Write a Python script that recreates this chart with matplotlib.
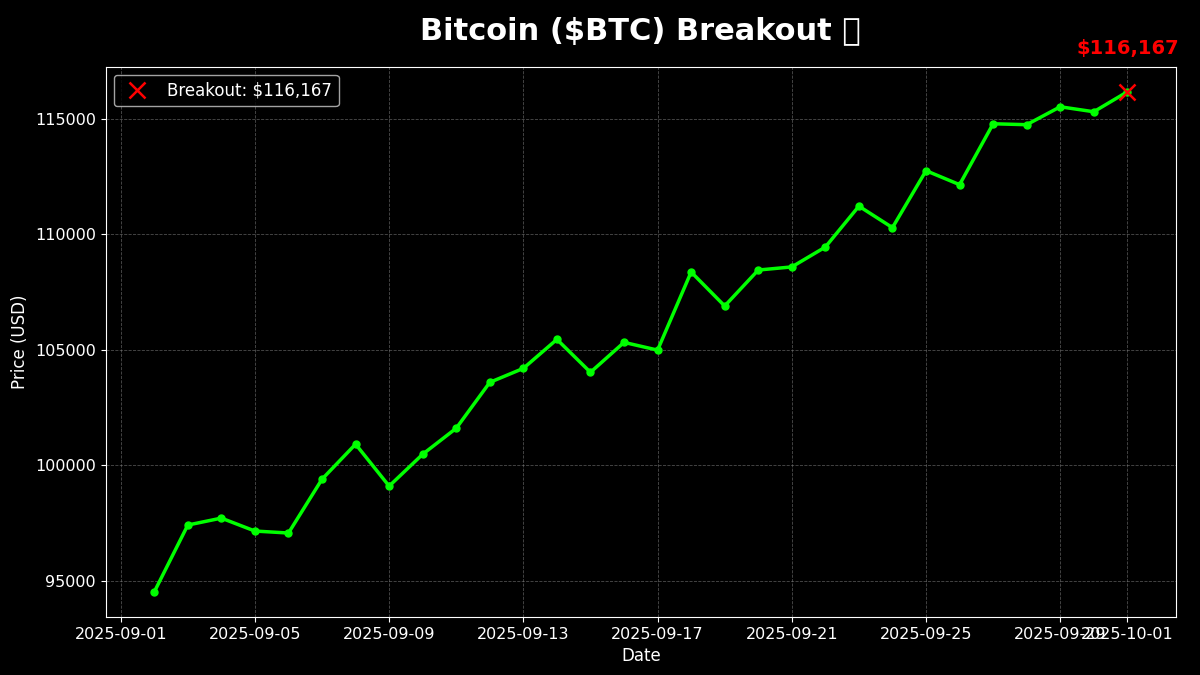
import matplotlib

matplotlib.use("Agg")

import matplotlib.pyplot as plt
import pandas as pd

# daily closing prices
dates = pd.date_range("2025-09-02", "2025-10-01", freq="D")
prices = [
    94525, 97420, 97720, 97160, 97075, 99405, 100920, 99105, 100485, 101610,
    103595, 104200, 105455, 104030, 105325, 104990, 108370, 106900, 108455, 108590,
    109450, 111220, 110290, 112755, 112150, 114785, 114745, 115520, 115305, 116167,
]
breakout_price = prices[-1]
breakout_date = dates[-1]

LINE = "#00ff00"
MARK = "red"

plt.style.use("dark_background")
fig, ax = plt.subplots(figsize=(12, 6.75), dpi=100)

ax.plot(dates, prices, color=LINE, lw=2.5, marker="o", ms=5)
ax.plot(
    [breakout_date], [breakout_price], linestyle="none", marker="x",
    color=MARK, ms=12, mew=1.8, label=f"Breakout: ${breakout_price:,}",
)
ax.annotate(
    f"${breakout_price:,}", (breakout_date, breakout_price),
    textcoords="offset points", xytext=(0, 27), ha="center",
    color=MARK, fontsize=14, fontweight="bold",
)

ax.set_title("Bitcoin ($BTC) Breakout 🚀", fontsize=22, fontweight="bold", pad=20)
ax.set_xlabel("Date", fontsize=12)
ax.set_ylabel("Price (USD)", fontsize=12)
ax.tick_params(labelsize=11.5)
ax.grid(True, linestyle="--", color="gray", alpha=0.6, lw=0.6)
ax.legend(loc="upper left", fontsize=12)

fig.subplots_adjust(left=0.088, right=0.98, top=0.901, bottom=0.086)
fig.savefig("out.png", dpi=100)
